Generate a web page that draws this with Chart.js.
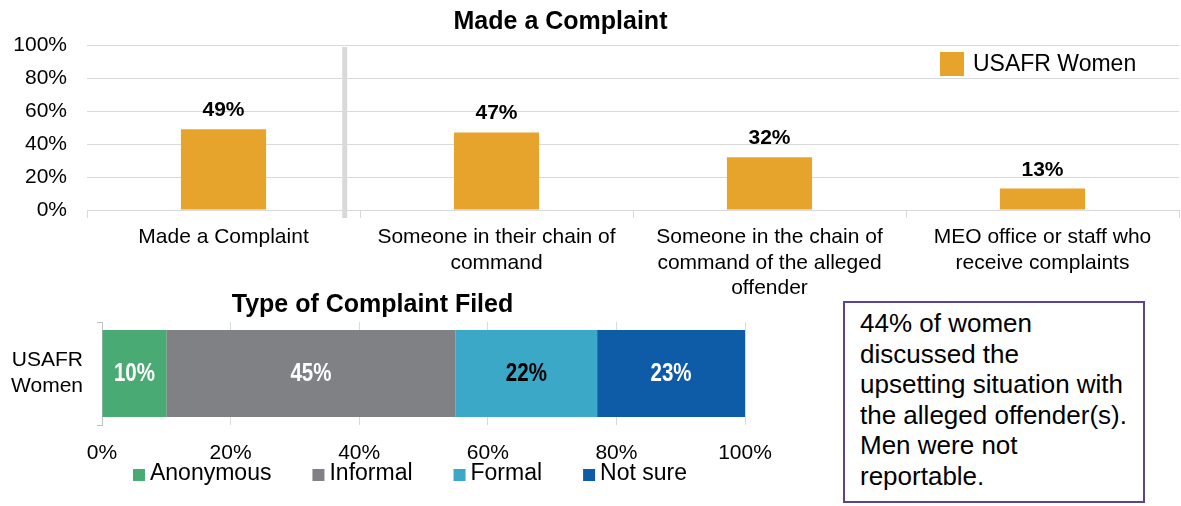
<!DOCTYPE html>
<html>
<head>
<meta charset="utf-8">
<script src="https://cdn.jsdelivr.net/npm/chart.js@4.4.1/dist/chart.umd.min.js"></script>
<style>
  html, body { margin: 0; padding: 0; background: #fff; overflow: hidden; width: 1181px; height: 506px; }
  #wrap { position: relative; width: 1181px; height: 506px; overflow: hidden; }
  #topChart { position: absolute; left: -58px; top: 0; }
  #typeChart { position: absolute; left: 0; top: 285px; }
  #note {
    position: absolute; left: 843px; top: 301px; width: 302px; height: 202px;
    box-sizing: border-box; border: 2.5px solid #5e4391;
    padding: 5px 0 0 15px;
    font: 26px/30.5px "Liberation Sans", Arial, sans-serif; color: #000;
  }
</style>
</head>
<body>
<div id="wrap">
  <canvas id="topChart" width="1239" height="300"></canvas>
  <canvas id="typeChart" width="820" height="221"></canvas>
  <div id="note">44% of women<br>discussed the<br>upsetting situation with<br>the alleged offender(s).<br>Men were not<br>reportable.</div>
</div>
<script>
// ---- data: who the complaint was made to ----
const complaintCategories = [
  ["Made a Complaint"],
  ["Someone in their chain of", "command"],
  ["Someone in the chain of", "command of the alleged", "offender"],
  ["MEO office or staff who", "receive complaints"]
];
const usafrWomen = [49, 47, 32, 13];
const percentTicks = [0, 20, 40, 60, 80, 100];

// ---- data: type of complaint filed ----
const typeCategories = [["USAFR", "Women"]];
const typeSeries = ["Anonymous", "Informal", "Formal", "Not sure"];
const anonymous = [10];
const informal = [45];
const formal = [22];
const notSure = [23];

// ---- styling ----
const FONT = '"Liberation Sans", Arial, sans-serif';
const ORANGE = '#e7a42d';
const typeColors = ['#49aa73', '#808184', '#3ca8c7', '#0e5ca8'];
const typeLabelColors = ['#fff', '#fff', '#000', '#fff'];
const GRID = '#d9d9d9';

const pct = v => v + '%';

// divider between the overall bar and the breakdown bars
const dividerPlugin = {
  id: 'divider',
  beforeDatasetsDraw(chart) {
    const x = chart.scales.x;
    const a = x.getPixelForValue(0), b = x.getPixelForValue(1);
    const px = a + (b - a) * 0.444;
    const ctx = chart.ctx;
    ctx.save();
    ctx.strokeStyle = GRID;
    ctx.lineWidth = 5;
    ctx.beginPath();
    ctx.moveTo(px, chart.chartArea.top + 2);
    ctx.lineTo(px, chart.chartArea.bottom + 8);
    ctx.stroke();
    ctx.restore();
  }
};

// value labels above the bars
const topValuesPlugin = {
  id: 'topValues',
  afterDatasetsDraw(chart) {
    const ctx = chart.ctx;
    const ds = chart.data.datasets[0];
    ctx.save();
    ctx.font = 'bold 21px ' + FONT;
    ctx.fillStyle = '#000';
    ctx.textAlign = 'center';
    ctx.textBaseline = 'alphabetic';
    chart.getDatasetMeta(0).data.forEach((bar, i) => {
      ctx.fillText(pct(ds.data[i]), bar.x, bar.y - 13);
    });
    ctx.restore();
  }
};

// single-entry legend inside the plot, top right
const topLegendPlugin = {
  id: 'topLegend',
  afterDraw(chart) {
    const ctx = chart.ctx;
    const ds = chart.data.datasets[0];
    const area = chart.chartArea;
    const bx = area.right - 239, by = area.top + 7;
    ctx.save();
    ctx.fillStyle = ds.backgroundColor;
    ctx.fillRect(bx, by, 24, 24);
    ctx.font = '23px ' + FONT;
    ctx.fillStyle = '#000';
    ctx.textAlign = 'left';
    ctx.textBaseline = 'middle';
    ctx.fillText(ds.label, bx + 33, by + 13);
    ctx.restore();
  }
};

new Chart(document.getElementById('topChart'), {
  type: 'bar',
  data: {
    labels: complaintCategories,
    datasets: [{
      label: 'USAFR Women',
      data: usafrWomen,
      backgroundColor: ORANGE,
      barPercentage: 0.312,
      categoryPercentage: 1
    }]
  },
  options: {
    responsive: false,
    animation: false,
    events: [],
    layout: { padding: { left: 0, right: 2, top: 0, bottom: 0 } },
    plugins: {
      legend: { display: false },
      tooltip: { enabled: false },
      title: {
        display: true,
        text: 'Made a Complaint',
        color: '#000',
        font: { family: FONT, size: 25, weight: 'bold', lineHeight: 1.2 },
        padding: { top: 7, bottom: 8 }
      }
    },
    scales: {
      x: {
        grid: { offset: true, drawOnChartArea: false, tickLength: 8, color: GRID },
        border: { color: GRID },
        ticks: {
          color: '#000',
          font: { family: FONT, size: 21, lineHeight: 1.2 },
          padding: 7,
          maxRotation: 0,
          autoSkip: false
        },
        afterFit(s) { s.height = 90; }
      },
      y: {
        min: percentTicks[0],
        max: percentTicks[percentTicks.length - 1],
        afterBuildTicks(s) { s.ticks = percentTicks.map(v => ({ value: v })); },
        ticks: {
          callback: pct,
          color: '#000',
          font: { family: FONT, size: 21 },
          padding: 20
        },
        grid: { color: GRID, drawTicks: false },
        border: { display: false },
        afterFit(s) { s.width = 145; }
      }
    }
  },
  plugins: [dividerPlugin, topValuesPlugin, topLegendPlugin]
});

// ---- stacked type-of-complaint bar ----
const typeValues = [anonymous, informal, formal, notSure];

// percentage labels inside each segment, in a condensed bold face
const typeLabelsPlugin = {
  id: 'typeLabels',
  afterDatasetsDraw(chart) {
    const ctx = chart.ctx;
    const squeeze = 0.82;
    chart.data.datasets.forEach((ds, k) => {
      chart.getDatasetMeta(k).data.forEach((bar, i) => {
        const cx = (bar.x + bar.base) / 2;
        ctx.save();
        ctx.translate(cx, bar.y + 1);
        ctx.scale(squeeze, 1);
        ctx.font = 'bold 25px ' + FONT;
        ctx.textAlign = 'center';
        ctx.textBaseline = 'middle';
        ctx.fillStyle = typeLabelColors[k];
        ctx.fillText(pct(ds.data[i]), 0, 0);
        ctx.restore();
      });
    });
  }
};

const typeLegendPlugin = {
  id: 'typeLegend',
  afterDraw(chart) {
    const ctx = chart.ctx;
    const box = 12, boxGap = 5, itemGap = 41;
    ctx.save();
    ctx.font = '23px ' + FONT;
    const widths = chart.data.datasets.map(ds => ctx.measureText(ds.label).width);
    const total = widths.reduce((s, w) => s + box + boxGap + w, 0) + itemGap * (widths.length - 1);
    let x = chart.width / 2 - total / 2;
    const y = chart.chartArea.bottom + 49;
    ctx.textAlign = 'left';
    ctx.textBaseline = 'middle';
    chart.data.datasets.forEach((ds, k) => {
      ctx.fillStyle = ds.backgroundColor;
      ctx.fillRect(x, y - 5, box, box);
      ctx.fillStyle = '#000';
      ctx.fillText(ds.label, x + box + boxGap, y);
      x += box + boxGap + widths[k] + itemGap;
    });
    ctx.restore();
  }
};

new Chart(document.getElementById('typeChart'), {
  type: 'bar',
  data: {
    labels: typeCategories,
    datasets: typeSeries.map((name, k) => ({
      label: name,
      data: typeValues[k],
      backgroundColor: typeColors[k],
      barPercentage: 0.845,
      categoryPercentage: 1
    }))
  },
  options: {
    indexAxis: 'y',
    responsive: false,
    animation: false,
    events: [],
    layout: { padding: { left: 0, right: 75, top: 0, bottom: 41 } },
    plugins: {
      legend: { display: false },
      tooltip: { enabled: false },
      title: {
        display: true,
        text: 'Type of Complaint Filed',
        color: '#000',
        font: { family: FONT, size: 25, weight: 'bold', lineHeight: 1.2 },
        padding: { top: 5, bottom: 2 }
      }
    },
    scales: {
      x: {
        stacked: true,
        min: percentTicks[0],
        max: percentTicks[percentTicks.length - 1],
        afterBuildTicks(s) { s.ticks = percentTicks.map(v => ({ value: v })); },
        ticks: {
          callback: pct,
          color: '#000',
          font: { family: FONT, size: 21, lineHeight: 1.2 },
          padding: 16
        },
        grid: { color: GRID, drawTicks: false },
        border: { display: false },
        afterFit(s) { s.height = 40; }
      },
      y: {
        stacked: true,
        grid: { offset: true, drawOnChartArea: false, tickLength: 5, color: '#bfbfbf' },
        border: { color: '#bfbfbf' },
        ticks: {
          color: '#000',
          font: { family: FONT, size: 21, lineHeight: 1.24 },
          padding: 14
        },
        afterFit(s) {
          s.width = 102;
          // the two-line category label sits inside the band; it needs no extra room
          s.paddingTop = 0;
          s.paddingBottom = 0;
        }
      }
    }
  },
  plugins: [typeLabelsPlugin, typeLegendPlugin]
});
</script>
</body>
</html>
